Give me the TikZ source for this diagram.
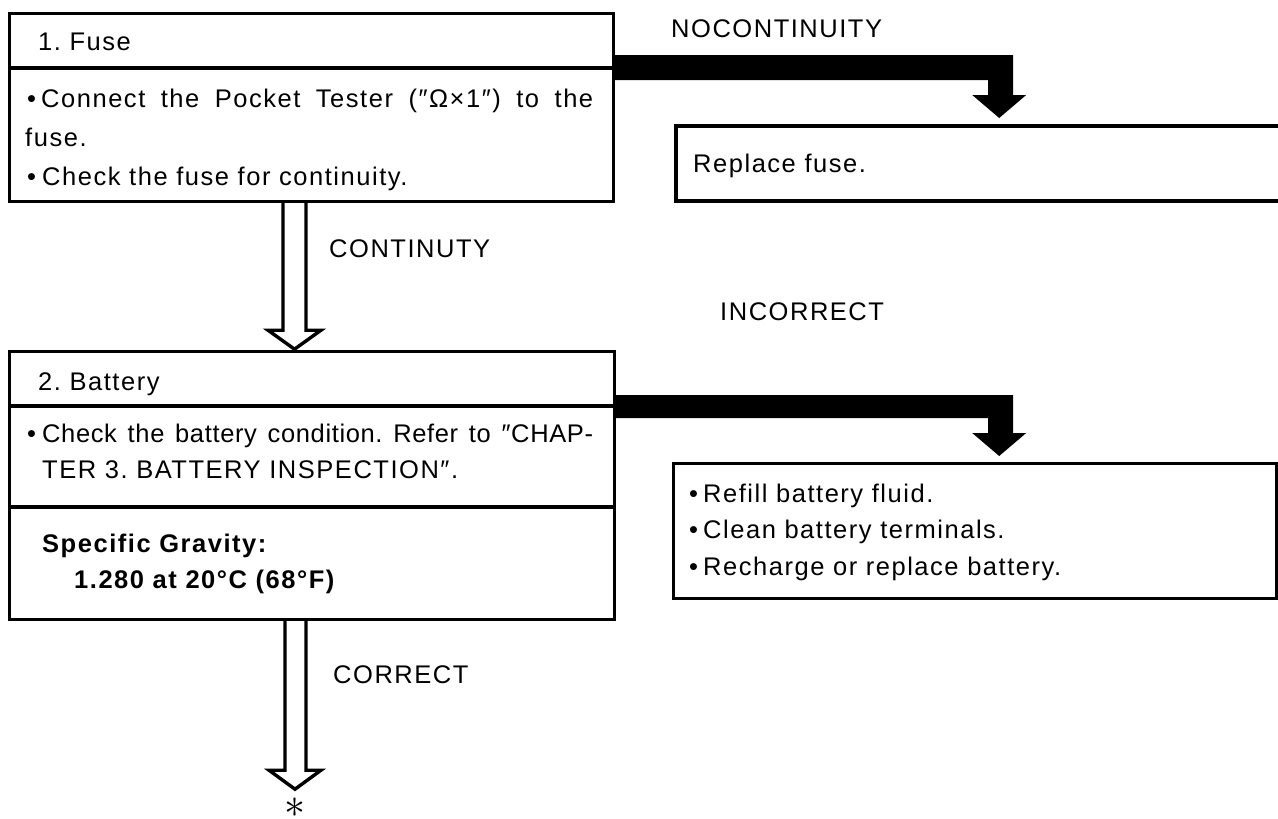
\documentclass[tikz,border=0pt]{standalone}
\usepackage{fontspec}
\setmainfont{Liberation Sans}[LetterSpace=6]
\usetikzlibrary{calc}
\begin{document}
\frenchspacing
\begin{tikzpicture}[x=1pt,y=-1pt,
  box/.style={draw, line width=3.2pt, rectangle, inner sep=0pt, anchor=north west},
  divider/.style={line width=3.2pt},
  txt/.style={anchor=base west, inner sep=0pt, font=\fontsize{25.5}{30}\selectfont},
  btxt/.style={txt, font=\fontsize{25.5}{30}\selectfont\bfseries},
  hollow/.style={draw, line width=3.4pt, line join=miter, miter limit=10},
  solidarrow/.style={fill=black, draw=none}]
\useasboundingbox (0,0) rectangle (1278,819);
\fill[white] (0,0) rectangle (1278,819);

% ---- Box 1: Fuse ----
\node[box, minimum width=604pt, minimum height=188pt] (fuse) at (8,12) {};
\draw[divider] ([yshift=-56pt]fuse.north west) -- ([yshift=-56pt]fuse.north east);
\node[txt] (f0) at (38,50) {1. Fuse};
\node[txt] (f1b) at (27,107) {•};
\node[txt] (f1) at (41,107) {\makebox[552pt][s]{Connect the Pocket Tester (″Ω×1″) to the}};
\node[txt] (f2) at (25,146) {fuse.};
\node[txt] (f3b) at (27,185) {•};
\node[txt] (f3) at (42,185) {Check the fuse for continuity.};

% ---- NOCONTINUITY branch ----
\node[txt] (lnc) at (671,37) {NOCONTINUITY};
\coordinate (repTL) at (676,126);
\coordinate (repBL) at (676,201);
\draw[divider] (1290,126) -- (repTL) -- (repBL) -- (1290,201);
\node[txt] (rep) at (693,172) {Replace fuse.};
\fill[solidarrow] ([yshift=-43pt]fuse.north east) -- ++(398,0) -- ++(0,40) -- ++(13,0)
  -- ++(-27,23) -- ++(-27,-23) -- ++(16,0) -- ++(0,-15) -- ([yshift=-68pt]fuse.north east) -- cycle;

% ---- CONTINUTY arrow ----
\draw[hollow] ([xshift=275pt]fuse.south west) -- ++(0,127) -- ++(-15,0) -- ++(26.5,19)
  -- ++(26.5,-19) -- ++(-15,0) -- ([xshift=298pt]fuse.south west);
\node[txt] (lc) at (329,257) {CONTINUTY};
\node[txt] (linc) at (720,320) {INCORRECT};

% ---- Box 2: Battery ----
\node[box, minimum width=605pt, minimum height=268pt] (bat) at (8,350) {};
\draw[divider] ([yshift=-56pt]bat.north west) -- ([yshift=-56pt]bat.north east);
\draw[divider] ([yshift=-157pt]bat.north west) -- ([yshift=-157pt]bat.north east);
\node[txt] (b0) at (38,390) {2. Battery};
\node[txt] (b1b) at (27,442) {•};
\node[txt] (b1) at (42,442) {\addfontfeature{LetterSpace=2.5}\makebox[551pt][s]{Check the battery condition. Refer to ″CHAP-}};
\node[txt] (b2) at (42,478) {TER 3. BATTERY INSPECTION″.};
\node[btxt] (b3) at (42,552) {Specific Gravity:};
\node[btxt] (b4) at (74,588) {1.280 at 20°C (68°F)};

% ---- INCORRECT branch ----
\node[box, minimum width=603pt, minimum height=135pt] (fix) at (672,462) {};
\node[txt] (x1b) at (689,502) {•};
\node[txt] (x1) at (703,502) {Refill battery fluid.};
\node[txt] (x2b) at (689,538) {•};
\node[txt] (x2) at (703,538) {Clean battery terminals.};
\node[txt] (x3b) at (689,575) {•};
\node[txt] (x3) at (703,575) {Recharge or replace battery.};
\fill[solidarrow] ([yshift=-45pt]bat.north east) -- ++(397,0) -- ++(0,38) -- ++(13,0)
  -- ++(-27,23) -- ++(-27,-23) -- ++(16,0) -- ++(0,-15) -- ([yshift=-68pt]bat.north east) -- cycle;

% ---- CORRECT arrow ----
\draw[hollow] ([xshift=277pt]bat.south west) -- ++(0,149) -- ++(-16,0) -- ++(26,19)
  -- ++(26,-19) -- ++(-15,0) -- ([xshift=298pt]bat.south west);
\node[txt] (lcor) at (333,683) {CORRECT};
\node[inner sep=0pt] (star) at (295,808) {\scalebox{4.2}{$\ast$}};
\end{tikzpicture}
\end{document}
